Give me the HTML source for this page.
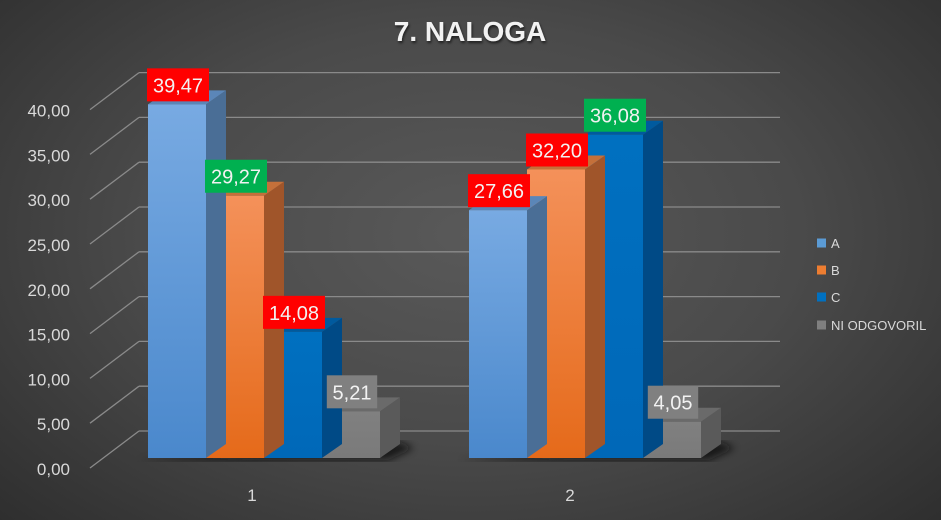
<!DOCTYPE html>
<html><head><meta charset="utf-8">
<style>
html,body{margin:0;padding:0;width:941px;height:520px;overflow:hidden;}
body{background:radial-gradient(ellipse 70% 80% at 50% 45%,#595959 0%,#4a4a4a 50%,#2e2e2e 100%);font-family:"Liberation Sans",sans-serif;}
svg text{font-family:"Liberation Sans",sans-serif;}
</style></head>
<body>
<svg id="chart" width="941" height="520" viewBox="0 0 941 520" xmlns="http://www.w3.org/2000/svg">
<defs>
<linearGradient id="gA" x1="0" y1="0" x2="0" y2="1"><stop offset="0" stop-color="#78aae2"/><stop offset="1" stop-color="#4a88cc"/></linearGradient>
<linearGradient id="gB" x1="0" y1="0" x2="0" y2="1"><stop offset="0" stop-color="#f4915a"/><stop offset="1" stop-color="#e56a1a"/></linearGradient>
<linearGradient id="gC" x1="0" y1="0" x2="0" y2="1"><stop offset="0" stop-color="#0070c0"/><stop offset="1" stop-color="#0068b8"/></linearGradient>
<linearGradient id="gD" x1="0" y1="0" x2="0" y2="1"><stop offset="0" stop-color="#808080"/><stop offset="1" stop-color="#7a7a7a"/></linearGradient>
<filter id="blur"><feGaussianBlur stdDeviation="4"/></filter>
<filter id="tsh"><feDropShadow dx="1" dy="2" stdDeviation="1.2" flood-color="#000" flood-opacity="0.6"/></filter>
</defs>
<text x="470" y="41" text-anchor="middle" font-size="28" font-weight="bold" fill="#f2f2f2" filter="url(#tsh)">7. NALOGA</text>
<g id="grid"></g>
<g id="bars"></g>
<g id="labels"></g>
<g id="legend"></g>
</svg>
<script>
const categories = ["1", "2"];
const seriesNames = ["A", "B", "C", "NI ODGOVORIL"];
const seriesA = [39.47, 27.66];
const seriesB = [29.27, 32.20];
const seriesC = [14.08, 36.08];
const seriesD = [5.21, 4.05];
const labelColorsA = ["#ff0000", "#ff0000"];
const labelColorsB = ["#00b050", "#ff0000"];
const labelColorsC = ["#ff0000", "#00b050"];
const labelColorsD = ["#808080", "#808080"];
const yTicks = [0, 5, 10, 15, 20, 25, 30, 35, 40];
const yTickLabels = ["0,00","5,00","10,00","15,00","20,00","25,00","30,00","35,00","40,00"];

const NS = "http://www.w3.org/2000/svg";
const FRONT0 = 458, SCALE = 8.96, DX = 20, DY = 14;
const BACK0 = 431;
function yFront(v){ return FRONT0 - v*SCALE; }
function yBack(v){ return BACK0 - v*SCALE; }
const groupStart = [148, 469];
const BW = 58;
function xBar(ci, si){ return groupStart[ci] + si*BW; }
function mk(tag, attrs, parent){ const e=document.createElementNS(NS,tag); for(const k in attrs) e.setAttribute(k, attrs[k]); parent.appendChild(e); return e; }

const grid = document.getElementById('grid');
yTicks.forEach((t,i)=>{
  const yb = yBack(t);
  const l = mk('line',{x1:139,y1:yb,x2:780,y2:yb,stroke:'#8a8a8a','stroke-width':1.3},grid);
  
  
  const d = mk('line',{x1:90,y1:yb+37,x2:139,y2:yb,stroke:'#8a8a8a','stroke-width':1.3},grid);
  
  
  const tx = mk('text',{x:70,y:yb+44,'text-anchor':'end','font-size':17,fill:'#d9d9d9'},grid);
  tx.textContent = yTickLabels[i];
  
  
});
categories.forEach((c,ci)=>{
  const t = mk('text',{x:[252,570][ci],y:501,'text-anchor':'middle','font-size':17,fill:'#d9d9d9'},grid);
  t.textContent = c;
  
  
});

const bars = document.getElementById('bars');
const labels = document.getElementById('labels');
const series = [seriesA, seriesB, seriesC, seriesD];
const lcols = [labelColorsA, labelColorsB, labelColorsC, labelColorsD];
const fills = ['url(#gA)','url(#gB)','url(#gC)','url(#gD)'];
const sides = ['#4a6e96','#a0552a','#004a86','#5a5a5a'];
const tops = ['#5b86b8','#c4703a','#005a9e','#6a6a6a'];
categories.forEach((c,ci)=>{
  const x0 = xBar(ci,0), x1 = xBar(ci,4);
  const sh = mk('polygon',{points:`${x0-10},${FRONT0+2} ${x1+8},${FRONT0+2} ${x1+DX+14},${FRONT0-DY+4} ${x1+DX},${FRONT0-DY-2}`,fill:'#111',opacity:0.8,filter:'url(#blur)'},bars);
  
  
  for(let si=3; si>=0; si--){
    const v = series[si][ci];
    const x = xBar(ci,si), yt = yFront(v);
    const g = mk('g',{},bars);
    
    
    mk('polygon',{points:`${x+BW},${yt} ${x+BW+DX},${yt-DY} ${x+BW+DX},${FRONT0-DY} ${x+BW},${FRONT0}`,fill:sides[si]},g);
    mk('polygon',{points:`${x},${yt} ${x+DX},${yt-DY} ${x+BW+DX},${yt-DY} ${x+BW},${yt}`,fill:tops[si]},g);
    mk('rect',{x:x,y:yt,width:BW,height:FRONT0-yt,fill:fills[si]},g);
  }
  for(let si=0; si<4; si++){
    const v = series[si][ci];
    const cx = xBar(ci,si)+BW/2+1, yt = yFront(v);
    const txt = v.toFixed(2).replace('.',',');
    const w = txt.length*11.6+4;
    const lg = mk('g',{},labels);
    
    
    mk('rect',{x:cx-w/2,y:yt-36,width:w,height:33,fill:lcols[si][ci]},lg);
    const t = mk('text',{x:cx,y:yt-12,'text-anchor':'middle','font-size':20,fill:'#f2f2f2'},lg);
    t.textContent = txt;
  }
});

const legend = document.getElementById('legend');
const lsw = ['#5b9bd5','#ed7d31','#0070c0','#7f7f7f'];
const ly = [243,270,297,325];
seriesNames.forEach((n,i)=>{
  const g = mk('g',{},legend);
  
  
  mk('rect',{x:817,y:ly[i]-4.5,width:9,height:9,fill:lsw[i]},g);
  const t = mk('text',{x:831,y:ly[i]+5,'font-size':13,fill:'#d9d9d9'},g);
  t.textContent = n;
});
</script>
</body></html>
